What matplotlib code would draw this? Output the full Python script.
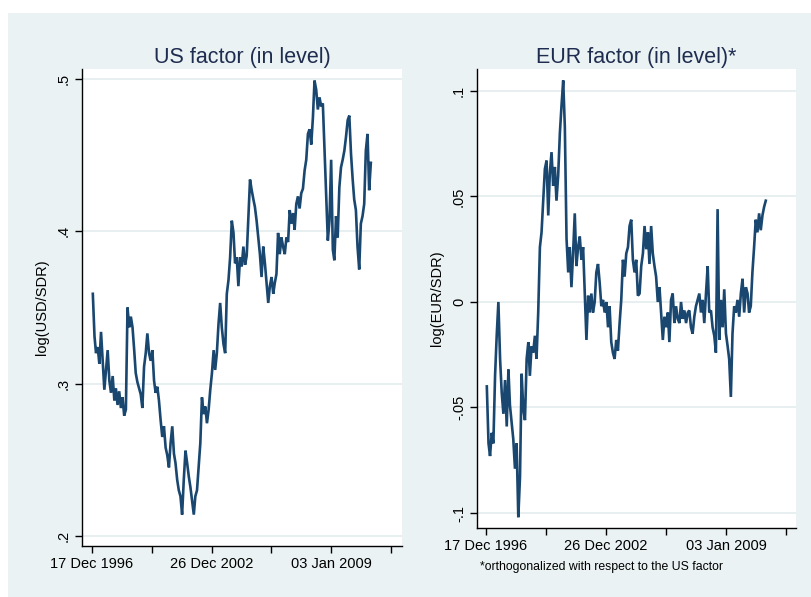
import pandas as pd
import numpy as np
import matplotlib.pyplot as plt
from matplotlib.patches import Rectangle

# Monthly readings, Jan 1997 - Jan 2011
months = pd.date_range('1997-01-01', periods=169, freq='MS')

us_factor = [
    0.359, 0.331, 0.320, 0.324, 0.313, 0.334, 0.315, 0.296, 0.309, 0.322,
    0.302, 0.294, 0.305, 0.289, 0.297, 0.286, 0.295, 0.284, 0.291, 0.279,
    0.283, 0.350, 0.337, 0.344, 0.337, 0.322, 0.307, 0.301, 0.297, 0.293,
    0.284, 0.311, 0.320, 0.333, 0.320, 0.315, 0.322, 0.302, 0.294, 0.298,
    0.289, 0.276, 0.265, 0.272, 0.258, 0.253, 0.245, 0.261, 0.272, 0.254,
    0.248, 0.237, 0.230, 0.226, 0.214, 0.237, 0.256, 0.248, 0.239, 0.232,
    0.223, 0.214, 0.226, 0.230, 0.245, 0.261, 0.291, 0.280, 0.285, 0.274,
    0.283, 0.296, 0.307, 0.322, 0.309, 0.320, 0.339, 0.353, 0.337, 0.326,
    0.320, 0.359, 0.368, 0.383, 0.407, 0.399, 0.379, 0.383, 0.364, 0.383,
    0.377, 0.390, 0.378, 0.384, 0.410, 0.434, 0.427, 0.421, 0.416, 0.407,
    0.396, 0.385, 0.370, 0.390, 0.379, 0.366, 0.353, 0.364, 0.370, 0.359,
    0.366, 0.372, 0.399, 0.385, 0.396, 0.390, 0.385, 0.396, 0.393, 0.414,
    0.405, 0.412, 0.401, 0.418, 0.423, 0.415, 0.425, 0.428, 0.440, 0.447,
    0.464, 0.467, 0.457, 0.475, 0.499, 0.493, 0.480, 0.488, 0.482, 0.484,
    0.453, 0.425, 0.394, 0.407, 0.447, 0.388, 0.381, 0.410, 0.396, 0.429,
    0.442, 0.447, 0.453, 0.462, 0.473, 0.476, 0.451, 0.434, 0.421, 0.414,
    0.390, 0.375, 0.405, 0.410, 0.418, 0.453, 0.464, 0.427, 0.445,
]

eur_factor = [
    -0.040, -0.067, -0.073, -0.062, -0.067, -0.035, -0.016, 0.000, -0.027, -0.043,
    -0.053, -0.037, -0.059, -0.032, -0.049, -0.057, -0.065, -0.079, -0.067, -0.102,
    -0.083, -0.034, -0.051, -0.056, -0.027, -0.019, -0.035, -0.021, -0.024, -0.016,
    -0.027, -0.005, 0.026, 0.033, 0.048, 0.063, 0.067, 0.041, 0.061, 0.071,
    0.055, 0.064, 0.048, 0.060, 0.080, 0.093, 0.105, 0.083, 0.030, 0.014,
    0.026, 0.007, 0.023, 0.042, 0.017, 0.026, 0.031, 0.020, 0.026, 0.004,
    -0.018, 0.003, -0.005, 0.004, -0.005, 0.000, 0.014, 0.018, 0.009, -0.002,
    0.001, -0.005, 0.000, -0.012, -0.002, -0.019, -0.024, -0.027, -0.018, -0.023,
    -0.010, 0.001, 0.020, 0.012, 0.023, 0.026, 0.036, 0.039, 0.020, 0.014,
    0.020, 0.003, 0.004, 0.017, 0.023, 0.036, 0.025, 0.033, 0.018, 0.036,
    0.023, 0.017, 0.012, 0.000, 0.007, -0.005, -0.018, -0.007, -0.012, -0.005,
    -0.019, 0.001, 0.004, -0.010, -0.002, -0.008, -0.010, 0.000, -0.008, -0.004,
    -0.010, -0.005, -0.004, -0.012, -0.015, -0.007, -0.002, 0.001, 0.004, -0.005,
    0.001, -0.010, 0.004, 0.017, -0.005, -0.004, -0.012, -0.016, -0.024, 0.044,
    -0.018, 0.001, -0.012, 0.006, -0.015, -0.021, -0.027, -0.045, -0.015, -0.002,
    -0.005, 0.001, -0.007, 0.004, 0.011, -0.005, 0.007, 0.004, -0.005, -0.002,
    0.014, 0.026, 0.039, 0.033, 0.042, 0.034, 0.041, 0.045, 0.048,
]

us_yticks = [0.2, 0.3, 0.4, 0.5]
us_ylabels = ['.2', '.3', '.4', '.5']
eur_yticks = [-0.1, -0.05, 0.0, 0.05, 0.1]
eur_ylabels = ['-.1', '-.05', '0', '.05', '.1']

# Stata-style daily dates (days since 01jan1960)
origin = pd.Timestamp('1960-01-01')
xdays = (months - origin).days.to_numpy()
xticks = [13500, 14600, 15700, 16800, 17900, 19000]
xlabels = [(origin + pd.Timedelta(days=d)).strftime('%d %b %Y') if i % 2 == 0 else ''
           for i, d in enumerate(xticks)]

BG = '#EAF2F3'
LINE = '#1A476F'
GRID = '#E3ECEE'
TITLE = '#1E2C4F'

plt.rcParams['font.family'] = ['Liberation Sans', 'DejaVu Sans']

W, H = 811, 597
fig = plt.figure(figsize=(W / 100, H / 100), dpi=100)
fig.patch.set_facecolor('white')
fig.patches.append(Rectangle((8 / W, 0), 1, 1 - 13 / H, transform=fig.transFigure,
                             facecolor=BG, edgecolor='none', zorder=-5))


def panel(rect, y, ylim, yticks, ylabels, xlim, title, ylab):
    ax = fig.add_axes(rect)
    ax.set_facecolor('white')
    ax.plot(xdays, y, color=LINE, lw=1.9, solid_joinstyle='miter')
    ax.set_xlim(xlim)
    ax.set_ylim(ylim)
    ax.set_yticks(yticks)
    ax.set_yticklabels(ylabels, rotation=90, va='center', fontsize=10.5)
    ax.set_xticks(xticks)
    ax.set_xticklabels(xlabels, fontsize=10.5)
    ax.grid(axis='y', color=GRID, lw=1.2)
    ax.set_axisbelow(True)
    for s in ['top', 'right']:
        ax.spines[s].set_visible(False)
    for s in ['left', 'bottom']:
        ax.spines[s].set_color('black')
        ax.spines[s].set_linewidth(1.0)
    ax.tick_params(direction='out', length=5, width=1.0, colors='black', pad=3)
    ax.set_title(title, fontsize=15.5, color=TITLE, pad=4)
    ax.set_ylabel(ylab, fontsize=10.5, labelpad=6)
    return ax


ax1 = panel([82 / W, 1 - 546 / H, 320 / W, 477 / H], us_factor,
            (0.1934, 0.5066), us_yticks, us_ylabels, (13316, 19201),
            'US factor (in level)', 'log(USD/SDR)')
ax2 = panel([477 / W, 1 - 528 / H, 319 / W, 459 / H], eur_factor,
            (-0.1071, 0.1104), eur_yticks, eur_ylabels, (13335, 19182),
            'EUR factor (in level)*', 'log(EUR/SDR)')

fig.text(601 / W, 1 - 567 / H, '*orthogonalized with respect to the US factor',
         ha='center', va='center', fontsize=8.8, color='black')

fig.savefig('out.png', dpi=100, facecolor=fig.get_facecolor())
